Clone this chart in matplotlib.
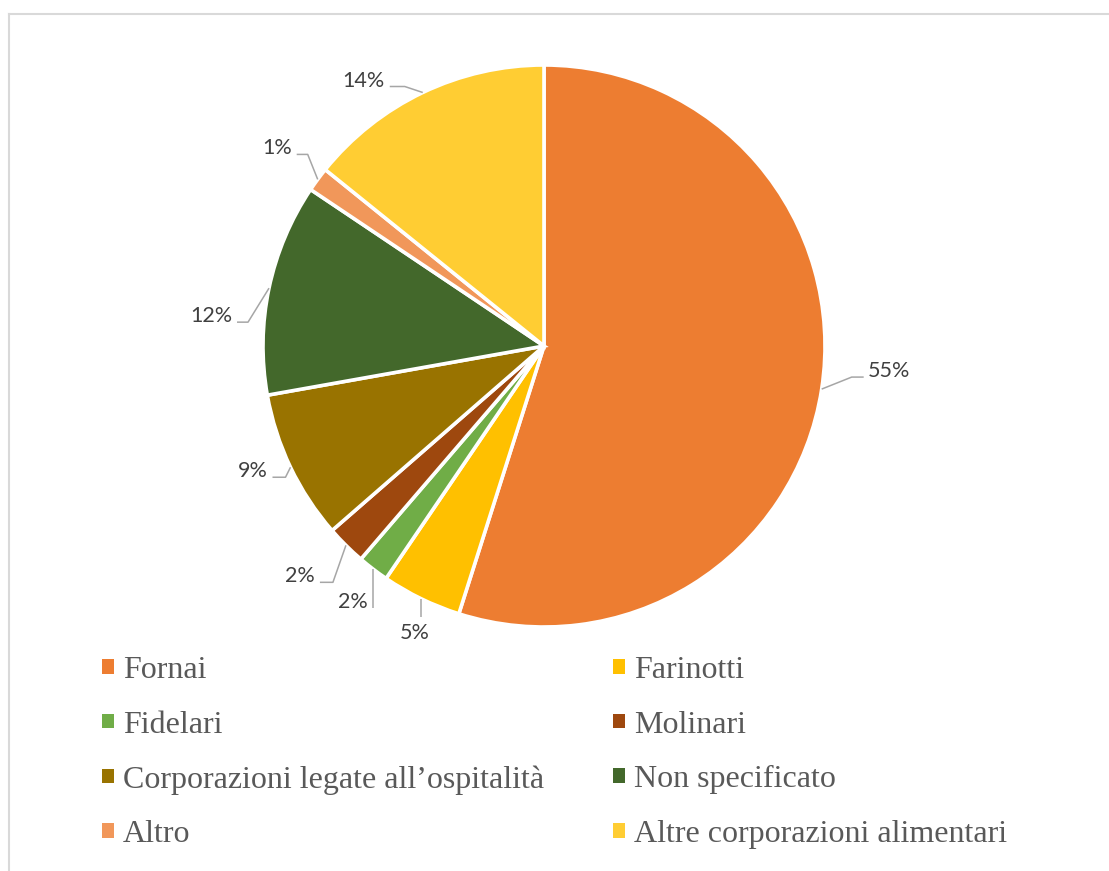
import matplotlib.pyplot as plt
import numpy as np
from matplotlib.patches import Patch
from matplotlib.lines import Line2D

categories = ['Fornai', 'Farinotti', 'Fidelari', 'Molinari',
              'Corporazioni legate all\u2019ospitalità', 'Non specificato',
              'Altro', 'Altre corporazioni alimentari']
shares = [54.9, 4.6, 1.8, 2.3, 8.6, 12.2, 1.4, 14.2]
colors = ['#ED7D31', '#FFC000', '#70AD47', '#9E480E',
          '#997300', '#43682B', '#F1975A', '#FFCD33']

# leader line elbow (px from wedge edge), tail length (px, sign = side)
elbows = [(30, -12), (0, 18), (0, 39), (-13, 37), (-5, 10), (-21, 34), (-10, -25), (-18, -6)]
tails = [12, 0, 0, -13, -13, -11, -11, -15]

W, H = 1109, 871
R = 281.0
cx, cy = 544, 346
half = 300

fig = plt.figure(figsize=(W / 100, H / 100), dpi=100)
ax = fig.add_axes([(cx - half) / W, (H - cy - half) / H, 2 * half / W, 2 * half / H])

wedges, _ = ax.pie(shares, colors=colors, startangle=90, counterclock=False,
                   radius=1.0, wedgeprops=dict(edgecolor='white', linewidth=2.6))
ax.set_xlim(-half / R, half / R)
ax.set_ylim(-half / R, half / R)
ax.axis('off')

lab_font = dict(fontsize=15.5, family='Lato', color='#404040')
total = sum(shares)
cum = 0.0
for i, v in enumerate(shares):
    mid = (cum + v / 2) / total * 2 * np.pi
    cum += v
    ex, ey = np.sin(mid), np.cos(mid)
    dx, dy = elbows[i]
    bx, by = ex + dx / R, ey - dy / R
    tx = bx + tails[i] / R
    ax.plot([ex, bx, tx], [ey, by, by], color='#A6A6A6', lw=1.1,
            solid_capstyle='butt', clip_on=False)
    label = f'{v:.0f}%'
    if i == 1:
        ax.text(tx - 6 / R, by - 6 / R, label, ha='center', va='top', **lab_font)
    elif tails[i] > 0:
        ax.text(tx + 4 / R, by + 6 / R, label, ha='left', va='center', **lab_font)
    else:
        ax.text(tx - 5 / R, by + 6 / R, label, ha='right', va='center', **lab_font)

# legend, filled row by row
order = [0, 2, 4, 6, 1, 3, 5, 7]
handles = [Patch(facecolor=colors[k], edgecolor='none') for k in order]
labels = [categories[k] for k in order]
leg = fig.legend(handles, labels, ncol=2, loc='upper left',
                 bbox_to_anchor=(102 / W, 1 - 656 / H),
                 frameon=False, handlelength=0.375, handleheight=0.33,
                 handletextpad=0.28, labelspacing=0.8, columnspacing=2.15,
                 borderaxespad=0, borderpad=0,
                 prop=dict(family='Liberation Serif', size=23))
for t in leg.get_texts():
    t.set_color('#595959')

# chart border
fig.add_artist(Line2D([9 / W, 9 / W], [0, 1 - 14 / H], transform=fig.transFigure,
                      color='#D9D9D9', lw=1.5))
fig.add_artist(Line2D([9 / W, 1], [1 - 14 / H, 1 - 14 / H], transform=fig.transFigure,
                      color='#D9D9D9', lw=1.5))

fig.savefig('out.png', dpi=100, facecolor='white')
